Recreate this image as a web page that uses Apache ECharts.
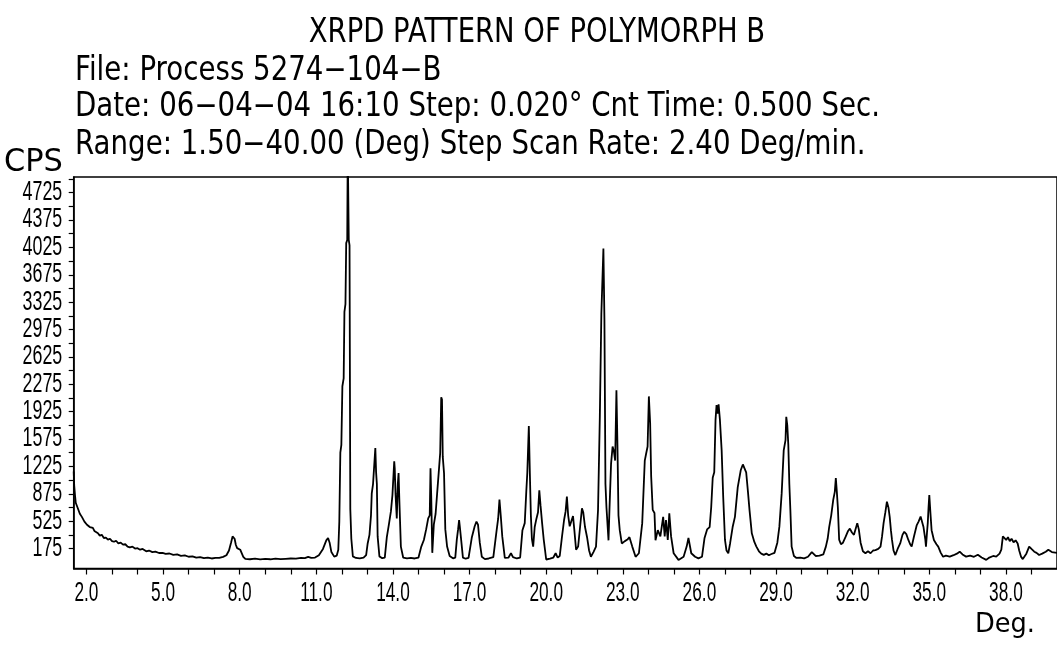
<!DOCTYPE html>
<html>
<head>
<meta charset="utf-8">
<script src="https://cdn.jsdelivr.net/npm/echarts@6/dist/echarts.min.js"></script>
<style>
  html, body { margin: 0; padding: 0; background: #fff; }
  #chart { width: 1057px; height: 645px; }
</style>
</head>
<body>
<div id="chart"></div>
<script>
// 2-theta (deg) vs counts per second
const pattern = [
  [1.50,1160],[1.52,980],[1.55,860],[1.58,760],[1.61,740],[1.65,700],[1.70,690],[1.74,620],[1.78,640],[1.82,580],
  [1.87,560],[1.92,520],[1.97,530],[2.02,480],[2.07,470],[2.13,450],[2.19,430],[2.25,440],[2.31,400],[2.38,395],
  [2.45,370],[2.52,340],[2.60,350],[2.68,310],[2.76,315],[2.84,290],[2.92,300],[3.00,270],[3.08,262],[3.16,275],
  [3.25,240],[3.34,250],[3.43,225],[3.52,230],[3.61,200],[3.70,190],[3.80,200],[3.90,175],[4.00,180],[4.10,160],
  [4.20,170],[4.34,140],[4.45,150],[4.58,130],[4.70,135],[4.84,118],[4.98,120],[5.10,108],[5.25,112],[5.40,95],
  [5.55,100],[5.70,82],[5.85,88],[6.00,70],[6.15,75],[6.30,58],[6.45,66],[6.60,52],[6.75,60],[6.90,48],
  [7.05,56],[7.20,55],[7.35,68],[7.48,90],[7.58,150],[7.66,250],[7.72,330],[7.76,350],[7.80,300],[7.85,220],
  [7.90,180],[7.96,190],[8.02,160],[8.08,150],[8.14,70],[8.22,42],[8.40,38],[8.60,45],[8.80,36],[9.00,42],
  [9.20,38],[9.40,46],[9.60,40],[9.80,44],[10.00,48],[10.20,45],[10.40,55],[10.55,52],[10.68,68],[10.80,55],
  [10.95,60],[11.10,90],[11.26,170],[11.39,280],[11.46,310],[11.52,250],[11.59,130],[11.70,72],[11.80,85],[11.86,160],
  [11.90,520],[11.94,1400],[11.98,1500],[12.02,2250],[12.07,2350],[12.10,3200],[12.14,3300],[12.17,4080],[12.21,4120],[12.23,5300],
  [12.27,4120],[12.30,4050],[12.33,680],[12.37,300],[12.43,75],[12.55,55],[12.70,50],[12.85,58],[12.95,90],[13.01,240],
  [13.08,350],[13.14,600],[13.17,880],[13.22,1000],[13.27,1020],[13.31,1460],[13.34,1150],[13.37,1000],[13.40,330],[13.47,75],
  [13.58,52],[13.68,60],[13.76,320],[13.84,480],[13.92,650],[13.98,860],[14.03,880],[14.05,1290],[14.07,1200],[14.10,880],
  [14.15,560],[14.19,1000],[14.22,1140],[14.25,800],[14.31,200],[14.40,60],[14.55,50],[14.70,55],[14.85,48],[15.00,60],
  [15.11,200],[15.21,285],[15.30,420],[15.38,560],[15.44,600],[15.47,1200],[15.50,820],[15.54,120],[15.60,480],[15.67,620],
  [15.73,880],[15.80,1180],[15.85,1400],[15.89,2110],[15.92,2080],[15.95,1350],[16.00,1140],[16.05,420],[16.12,200],[16.22,80],
  [16.35,50],[16.44,60],[16.50,290],[16.55,420],[16.59,540],[16.62,450],[16.66,320],[16.74,60],[16.85,45],[16.96,55],
  [17.09,320],[17.20,460],[17.27,520],[17.33,480],[17.40,250],[17.48,70],[17.60,40],[17.75,48],[17.93,65],[18.06,410],
  [18.12,560],[18.17,800],[18.22,600],[18.28,330],[18.38,55],[18.52,58],[18.62,115],[18.70,65],[18.85,48],[18.98,60],
  [19.07,410],[19.16,500],[19.22,900],[19.26,1140],[19.32,1740],[19.36,1140],[19.40,600],[19.44,300],[19.49,200],[19.55,450],
  [19.62,560],[19.68,640],[19.73,920],[19.78,720],[19.84,500],[19.90,300],[20.00,35],[20.15,45],[20.28,60],[20.37,115],
  [20.45,60],[20.53,80],[20.62,330],[20.70,540],[20.76,650],[20.81,840],[20.86,600],[20.92,460],[20.98,520],[21.05,590],
  [21.10,420],[21.17,160],[21.25,200],[21.33,460],[21.40,690],[21.45,640],[21.52,450],[21.60,320],[21.68,150],[21.75,70],
  [21.85,130],[21.95,200],[22.03,670],[22.10,1860],[22.16,3180],[22.20,3200],[22.24,4010],[22.28,3100],[22.32,1000],[22.36,700],
  [22.40,690],[22.44,280],[22.48,700],[22.54,1260],[22.60,1480],[22.65,1420],[22.70,1300],[22.75,2200],[22.79,1500],[22.83,600],
  [22.88,410],[22.96,240],[23.08,270],[23.18,290],[23.26,320],[23.37,200],[23.50,70],[23.63,115],[23.76,500],[23.86,1300],
  [23.92,1400],[23.97,1480],[24.02,2120],[24.07,1780],[24.11,1100],[24.17,670],[24.24,630],[24.28,280],[24.37,410],[24.47,330],
  [24.58,580],[24.64,330],[24.69,540],[24.76,285],[24.82,625],[24.89,330],[24.99,115],[25.18,30],[25.38,70],[25.50,200],
  [25.57,310],[25.68,115],[25.83,70],[25.96,50],[26.10,70],[26.20,310],[26.30,420],[26.40,450],[26.46,700],[26.52,1080],
  [26.58,1150],[26.63,1820],[26.67,2010],[26.71,1900],[26.75,2020],[26.80,1830],[26.87,1430],[26.93,840],[27.00,285],[27.06,150],
  [27.13,115],[27.20,240],[27.30,450],[27.39,580],[27.50,960],[27.62,1180],[27.70,1250],[27.77,1240],[27.83,1150],[27.90,900],
  [27.96,670],[28.05,370],[28.15,260],[28.23,200],[28.33,140],[28.42,110],[28.52,95],[28.62,110],[28.72,90],[28.82,105],
  [28.94,120],[29.05,250],[29.13,455],[29.22,880],[29.30,1430],[29.37,1560],[29.40,1860],[29.44,1750],[29.48,1500],[29.52,1000],
  [29.56,670],[29.61,200],[29.70,80],[29.80,55],[29.95,60],[30.10,50],[30.25,70],[30.40,130],[30.46,135],[30.55,80],
  [30.70,85],[30.85,100],[30.95,200],[31.02,300],[31.08,450],[31.16,600],[31.24,800],[31.30,900],[31.34,1075],[31.38,900],
  [31.42,700],[31.47,290],[31.54,230],[31.62,250],[31.73,330],[31.82,400],[31.89,430],[31.97,380],[32.05,350],[32.12,430],
  [32.18,500],[32.24,420],[32.31,250],[32.40,140],[32.50,115],[32.60,140],[32.70,115],[32.80,150],[32.89,155],[33.00,170],
  [33.09,200],[33.15,330],[33.21,500],[33.28,640],[33.34,775],[33.40,700],[33.45,580],[33.50,400],[33.54,285],[33.60,150],
  [33.67,92],[33.76,170],[33.86,240],[33.95,350],[34.02,390],[34.10,360],[34.18,285],[34.25,230],[34.31,200],[34.40,330],
  [34.51,475],[34.58,520],[34.66,585],[34.70,560],[34.77,455],[34.84,300],[34.87,200],[34.91,380],[34.94,500],[34.97,700],
  [35.00,860],[35.04,650],[35.09,410],[35.18,285],[35.28,230],[35.35,200],[35.45,120],[35.54,70],[35.65,85],[35.80,72],
  [35.95,90],[36.08,110],[36.19,135],[36.30,100],[36.44,72],[36.60,85],[36.75,70],[36.90,95],[37.05,60],[37.23,30],
  [37.35,60],[37.50,80],[37.62,72],[37.75,110],[37.82,160],[37.88,330],[37.95,310],[38.01,285],[38.08,320],[38.15,270],
  [38.22,300],[38.30,255],[38.38,280],[38.46,240],[38.52,150],[38.59,72],[38.66,40],[38.72,30],[38.80,110],[38.91,200],
  [39.00,170],[39.11,135],[39.20,120],[39.30,92],[39.42,110],[39.56,135],[39.66,160],[39.80,130],[40.00,120]
]

const xLabelValues = [2, 5, 8, 11, 14, 17, 20, 23, 26, 29, 32, 35, 38]
const xTickValues = [2, 3, 4, 5, 6, 7, 8, 9, 10, 11, 12, 13, 14, 15, 16, 17, 18, 19, 20,
  21, 22, 23, 24, 25, 26, 27, 28, 29, 30, 31, 32, 33, 34, 35, 36, 37, 38, 39]
const yLabelValues = [175, 525, 875, 1225, 1575, 1925, 2275, 2625, 2975, 3325, 3675, 4025, 4375, 4725]
const yTickValues = [175, 350, 525, 700, 875, 1050, 1225, 1400, 1575, 1750, 1925, 2100, 2275, 2450,
  2625, 2800, 2975, 3150, 3325, 3500, 3675, 3850, 4025, 4200, 4375, 4550, 4725, 4900]

const headerLines = [
  'File: Process 5274\u2212104\u2212B',
  'Date: 06\u221204\u221204 16:10 Step: 0.020\u00b0 Cnt Time: 0.500 Sec.',
  'Range: 1.50\u221240.00 (Deg) Step Scan Rate: 2.40 Deg/min.'
]

const HEAD_FONT = '"DejaVu Sans", sans-serif'
const TICK_FONT = '"Liberation Sans", Arial, sans-serif'

// plain text element; scaleX narrows the glyphs like the plotter font
function textEl (text, x, y, font, align, scaleX) {
  return {
    type: 'text',
    x: x,
    y: y,
    scaleX: scaleX || 1,
    silent: true,
    style: {
      text: text,
      font: font,
      fill: '#000',
      align: align || 'left',
      textAlign: align || 'left',
      verticalAlign: 'middle',
      textVerticalAlign: 'middle'
    }
  }
}

const chart = echarts.init(document.getElementById('chart'))
chart.setOption({
  animation: false,
  backgroundColor: '#ffffff',
  grid: {
    left: 73.7,
    top: 177,
    width: 991,
    height: 391.5,
    show: true,
    borderColor: '#000',
    borderWidth: 1.5
  },
  xAxis: {
    type: 'value',
    min: 1.5,
    max: 40,
    splitLine: { show: false },
    axisLine: { show: true, onZero: false, lineStyle: { color: '#000', width: 1.5 } },
    axisTick: {
      show: true,
      customValues: xTickValues,
      length: 6,
      lineStyle: { color: '#000', width: 1.2 }
    },
    axisLabel: { show: false }
  },
  yAxis: {
    type: 'value',
    min: -80,
    max: 4925,
    splitLine: { show: false },
    axisLine: { show: true, onZero: false, lineStyle: { color: '#000', width: 1.5 } },
    axisTick: {
      show: true,
      customValues: yTickValues,
      length: 5,
      lineStyle: { color: '#000', width: 1.2 }
    },
    axisLabel: { show: false }
  },
  series: [{
    type: 'line',
    data: pattern,
    symbol: 'none',
    clip: true,
    lineStyle: { color: '#000', width: 1.8 }
  }]
})

// tick labels placed through the axis scales, in a narrow plotter-like face
const texts = [
  textEl('XRPD PATTERN OF POLYMORPH B', 537, 33, '33px ' + HEAD_FONT, 'center', 0.832),
  textEl(headerLines[0], 75, 71, '33px ' + HEAD_FONT, 'left', 0.838),
  textEl(headerLines[1], 75, 107, '33px ' + HEAD_FONT, 'left', 0.838),
  textEl(headerLines[2], 75, 145, '33px ' + HEAD_FONT, 'left', 0.838),
  textEl('CPS', 4, 163, '32px ' + HEAD_FONT, 'left', 0.95),
  textEl('Deg.', 975, 625, '27px ' + HEAD_FONT, 'left', 0.95)
]
xLabelValues.forEach(v => {
  const p = chart.convertToPixel({ gridIndex: 0 }, [v, -80])
  texts.push(textEl(v.toFixed(1), p[0], p[1] + 25, '27px ' + TICK_FONT, 'center', 0.64))
})
yLabelValues.forEach(v => {
  const p = chart.convertToPixel({ gridIndex: 0 }, [1.5, v])
  texts.push(textEl(String(v), p[0] - 11.5, p[1], '27px ' + TICK_FONT, 'right', 0.66))
})
chart.setOption({ graphic: texts })
</script>
</body>
</html>
